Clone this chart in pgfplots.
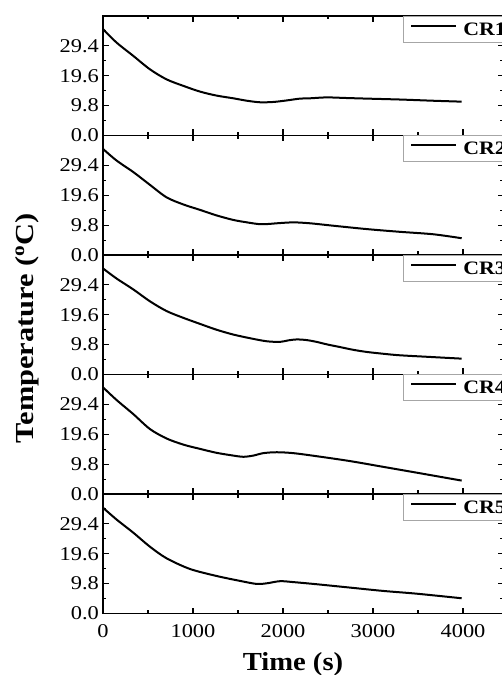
\documentclass[border=0pt]{standalone}
\usepackage{fontspec}
\setmainfont{Liberation Serif}
\usepackage{pgfplots}
\pgfplotsset{compat=1.18}

\pgfplotstableread{
t T
0 34.9
150 30.5
337 26.1
522 21.7
707 18.4
900 16.2
1078 14.4
1260 13.1
1448 12.2
1600 11.4
1744 10.9
1893 11.0
2041 11.5
2189 12.1
2300 12.2
2485 12.5
2700 12.3
2930 12.1
3300 11.8
3670 11.4
3985 11.1
}\crone
\pgfplotstableread{
t T
0 34.8
150 31.0
337 27.2
522 23.0
707 18.9
900 16.5
1078 14.8
1260 13.0
1448 11.5
1600 10.7
1744 10.1
1850 10.2
1930 10.4
2115 10.7
2300 10.4
2560 9.6
2930 8.5
3300 7.6
3670 6.8
3985 5.5
}\crtwo
\pgfplotstableread{
t T
0 34.8
150 31.5
337 27.9
522 24.0
707 20.8
900 18.5
1078 16.6
1260 14.7
1448 13.1
1650 11.8
1819 10.9
1967 10.7
2060 11.2
2152 11.5
2260 11.3
2374 10.7
2500 9.8
2633 9.0
2780 8.1
2930 7.4
3115 6.8
3300 6.3
3670 5.7
3985 5.2
}\crthree
\pgfplotstableread{
t T
0 35.0
152 30.8
337 26.2
522 21.3
707 18.2
893 16.2
1078 14.8
1263 13.5
1448 12.6
1559 12.2
1670 12.6
1781 13.4
1930 13.7
2115 13.4
2374 12.4
2744 10.8
3115 8.9
3485 7.0
3985 4.4
}\crfour
\pgfplotstableread{
t T
0 34.7
152 30.8
337 26.5
522 21.9
707 18.1
967 14.6
1263 12.3
1522 10.7
1707 9.7
1819 9.9
1967 10.6
2115 10.3
2374 9.6
2744 8.5
3115 7.4
3485 6.5
3985 5.0
}\crfive

\pgfplotsset{
  panel/.style={
    scale only axis, width=400.5pt, height=119.5pt,
    xmin=0, xmax=4450, ymin=0, ymax=39.2,
    xtick={0,1000,2000,3000,4000},
    minor xtick={500,1500,2500,3500},
    ytick={0,9.8,19.6,29.4},
    minor ytick={4.9,14.7,24.5,34.3},
    tick align=inside, major tick length=6pt, minor tick length=3.5pt,
    axis line style={line width=1.4pt, black},
    every tick/.style={line width=1.1pt, black},
    /pgf/number format/assume math mode=true,
    xticklabels={},
    yticklabel style={font=\fontsize{19.5}{19.5}\selectfont, xscale=1.15,
      /pgf/number format/fixed, /pgf/number format/fixed zerofill,
      /pgf/number format/precision=1},
    legend style={at={(rel axis cs:0.749,1)}, anchor=north west,
      draw=gray!70, line width=0.7pt, inner xsep=7pt, inner ysep=6.5pt,
      font=\bfseries\fontsize{19}{19}\selectfont,
      nodes={inner sep=0pt, text depth=0pt}, column sep=6pt},
    legend image code/.code={\draw[black, line width=2pt] (0pt,0.35em) -- (45pt,0.35em);},
  },
  crv/.style={black, line width=2pt, smooth, tension=0.5, mark=none},
}

\begin{document}
\begin{tikzpicture}
\begin{axis}[panel, at={(103pt,539.5pt)}, anchor=south west]
\addplot[crv] table[x=t,y=T] {\crone};
\addlegendentry{\scalebox{1.15}[1]{CR1}}
\end{axis}
\begin{axis}[panel, at={(103pt,420pt)}, anchor=south west]
\addplot[crv] table[x=t,y=T] {\crtwo};
\addlegendentry{\scalebox{1.15}[1]{CR2}}
\end{axis}
\begin{axis}[panel, at={(103pt,300.5pt)}, anchor=south west]
\addplot[crv] table[x=t,y=T] {\crthree};
\addlegendentry{\scalebox{1.15}[1]{CR3}}
\end{axis}
\begin{axis}[panel, at={(103pt,181pt)}, anchor=south west]
\addplot[crv] table[x=t,y=T] {\crfour};
\addlegendentry{\scalebox{1.15}[1]{CR4}}
\end{axis}
\begin{axis}[panel, at={(103pt,61.5pt)}, anchor=south west,
  xticklabels={0,1000,2000,3000,4000},
  xticklabel style={font=\fontsize{19.5}{19.5}\selectfont, xscale=1.15, yshift=-7pt}]
\addplot[crv] table[x=t,y=T] {\crfive};
\addlegendentry{\scalebox{1.15}[1]{CR5}}
\end{axis}
\node[rotate=90, font=\bfseries\fontsize{26}{26}\selectfont] at (27pt,347pt)
  {\scalebox{1.17}[1]{Temperature (\textsuperscript{o}C)}};
\node[anchor=base, font=\bfseries\fontsize{26}{26}\selectfont] at (293pt,5pt)
  {\scalebox{1.1}[1]{Time (s)}};
\pgfresetboundingbox
\path[use as bounding box] (0pt,0pt) rectangle (501pt,675pt);
\end{tikzpicture}
\end{document}
